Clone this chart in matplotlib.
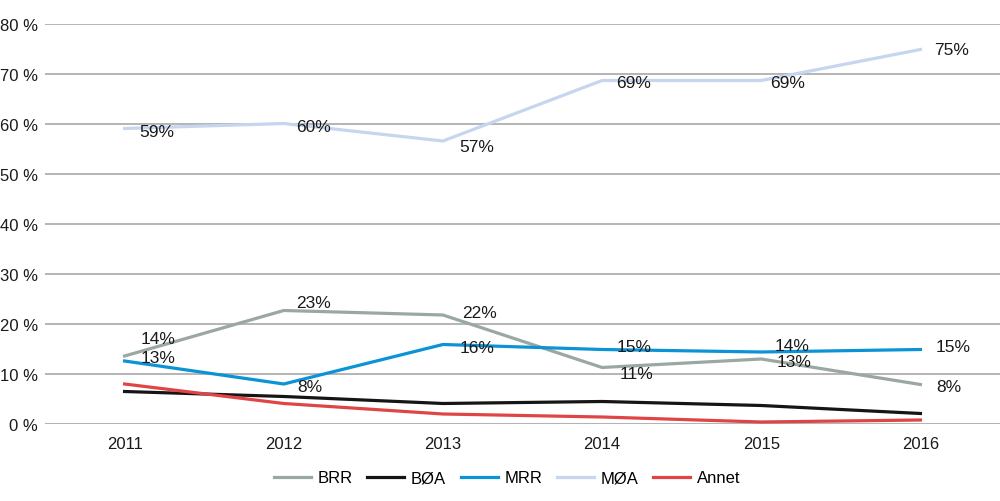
import matplotlib
matplotlib.use("Agg")
import matplotlib.pyplot as plt

plt.rcParams["font.family"] = ["Liberation Sans", "DejaVu Sans"]

years = ["2011", "2012", "2013", "2014", "2015", "2016"]
series_names = ["BRR", "BØA", "MRR", "MØA", "Annet"]

brr = [13.6, 22.7, 21.8, 11.3, 13.0, 7.9]
boa = [6.5, 5.5, 4.1, 4.5, 3.7, 2.1]
mrr = [12.6, 8.0, 15.9, 14.9, 14.4, 14.9]
moa = [59.1, 60.1, 56.6, 68.7, 68.7, 74.9]
annet = [8.0, 4.1, 2.0, 1.4, 0.4, 0.8]

labelled = ["BRR", "MRR", "MØA"]

colors = {
    "BRR": "#9aa8a2",
    "BØA": "#151515",
    "MRR": "#0b93d6",
    "MØA": "#c5d6ee",
    "Annet": "#e04545",
}

# label offsets in pixels (dx right, dy up)
offsets = {
    "MØA": [(15, -3), (12, -3), (16, -6), (14, -2), (9, -2), (14, 0)],
    "BRR": [(16, 17), (12, 8), (19, 2), (18, -6), (15, -3), (16, -2)],
    "MRR": [(16, 3), (14, -3), (17, -3), (15, 3), (13, 6), (15, 3)],
}

data = {"BRR": brr, "BØA": boa, "MRR": mrr, "MØA": moa, "Annet": annet}

fig = plt.figure(figsize=(10, 5.02), dpi=100)
ax = fig.add_axes([0.045, 0.1534, 0.955, 0.7968])

x = list(range(len(years)))
for name in series_names:
    ax.plot(x, data[name], color=colors[name], lw=2.3, label=name,
            solid_joinstyle="miter", zorder=3)

for name in labelled:
    for i, v in enumerate(data[name]):
        dx, dy = offsets[name][i]
        ax.annotate(f"{round(v)}%", (x[i], v), xytext=(dx, dy),
                    textcoords="offset pixels", ha="left", va="center",
                    fontsize=12.5, color="#1a1a1a", zorder=4)

ax.set_xlim(-0.5, len(years) - 0.5)
ax.set_ylim(0, 80)
ax.set_xticks(x)
ax.set_xticklabels(years)
ax.set_yticks(range(0, 81, 10))
ax.set_yticklabels([f"{t} %" for t in range(0, 81, 10)])
ax.tick_params(axis="both", length=0, labelsize=12, colors="#1a1a1a")
ax.tick_params(axis="y", pad=5)
ax.tick_params(axis="x", pad=9)
for s in ax.spines.values():
    s.set_visible(False)
ax.yaxis.grid(True, color="#a0a0a0", lw=1.1)
ax.set_axisbelow(True)
ax.axhline(0, color="#b4b4b4", lw=2.2, zorder=1)

fig.legend(loc="center", bbox_to_anchor=(0.507, 0.046), ncol=5, frameon=False,
           fontsize=12, handlelength=2.2, handletextpad=0.4, columnspacing=0.9)

fig.savefig("out.png", dpi=100)
